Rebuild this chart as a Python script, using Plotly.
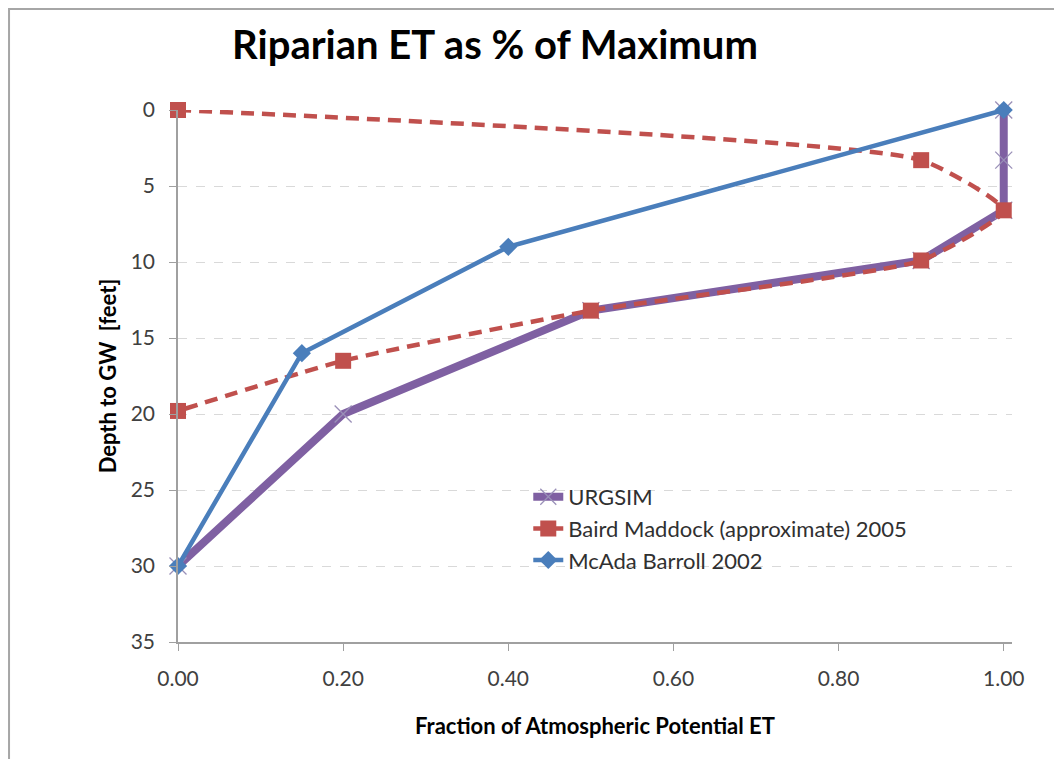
import plotly.graph_objects as go

# Data
urgsim_x = [1.0, 1.0, 1.0, 0.9, 0.5, 0.2, 0.0]
urgsim_y = [0, 3.3, 6.6, 9.9, 13.2, 20, 30]

baird_x = [0.0, 0.9, 1.0, 0.9, 0.5, 0.2, 0.0]
baird_y = [0, 3.3, 6.6, 9.9, 13.2, 16.5, 19.8]

mcada_x = [1.0, 0.4, 0.15, 0.0]
mcada_y = [0, 9, 16, 30]

x_ticks = [0, 0.2, 0.4, 0.6, 0.8, 1.0]
x_tick_labels = ["0.00", "0.20", "0.40", "0.60", "0.80", "1.00"]
y_ticks = [0, 5, 10, 15, 20, 25, 30, 35]

FONT = "Lato"

fig = go.Figure()
fig.add_trace(go.Scatter(
    x=urgsim_x, y=urgsim_y, name="URGSIM", mode="lines+markers", cliponaxis=False,
    line=dict(color="#7F60A2", width=8),
    marker=dict(symbol="x-thin-open", size=17, line=dict(color="#9A90B8", width=1.3), color="#9A90B8"),
))
fig.add_trace(go.Scatter(
    x=baird_x, y=baird_y, name="Baird Maddock (approximate) 2005", mode="lines+markers", cliponaxis=False,
    line=dict(color="#C0504D", width=4.5, dash="13px,8px", shape="spline", smoothing=0.5),
    marker=dict(symbol="square", size=16, color="#C0504D"),
))
fig.add_trace(go.Scatter(
    x=mcada_x, y=mcada_y, name="McAda Barroll 2002", mode="lines+markers", cliponaxis=False,
    line=dict(color="#4A7EBB", width=4.5),
    marker=dict(symbol="diamond", size=14, color="#4A7EBB"),
))

fig.update_layout(
    width=1062, height=759,
    paper_bgcolor="white", plot_bgcolor="white",
    margin=dict(l=170, r=58, t=102, b=125),
    title=dict(text="<b>Riparian ET as % of Maximum</b>", x=487/1062, xanchor="center",
               y=1 - 37/759, yanchor="middle", font=dict(family=FONT, size=40, color="black")),
    font=dict(family=FONT, color="#404040"),
    showlegend=True,
    legend=dict(x=0.42, y=0.312, xanchor="left", yanchor="top", bgcolor="rgba(0,0,0,0)",
                font=dict(family=FONT, size=22, color="#303030"), tracegroupgap=6),
    shapes=[dict(type="rect", xref="paper", yref="paper", x0=-0.2026, x1=1.2, y0=-0.4, y1=1.1898,
                 line=dict(color="#A6A6A6", width=2), layer="below")],
)
fig.update_xaxes(
    range=[0, 1.01], tickvals=x_ticks, ticktext=x_tick_labels,
    showgrid=False, zeroline=False, showline=True, linecolor="#A0A0A0", linewidth=1.5,
    ticks="outside", ticklen=7, tickcolor="#A0A0A0", ticklabelstandoff=10,
    tickfont=dict(family=FONT, size=21, color="#404040"),
    title=dict(text="<b>Fraction of Atmospheric Potential ET</b>", standoff=30,
               font=dict(family=FONT, size=22, color="black")),
)
fig.update_yaxes(
    range=[35, 0], tickvals=y_ticks,
    showgrid=True, gridcolor="#D9D9D9", griddash="dash", gridwidth=1,
    zeroline=False, showline=True, linecolor="#A0A0A0", linewidth=1.5,
    ticks="outside", ticklen=7, tickcolor="#A0A0A0", ticklabelstandoff=10,
    tickfont=dict(family=FONT, size=21, color="#404040"),
    title=dict(text="<b>Depth to GW  [feet]</b>", standoff=8,
               font=dict(family=FONT, size=22, color="black")),
)

fig.write_html("out.html")
